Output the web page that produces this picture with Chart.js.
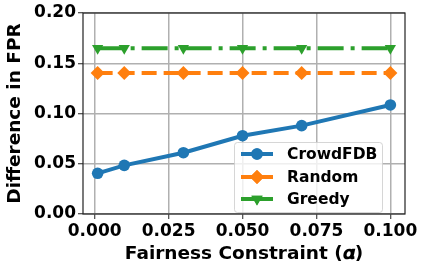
<!DOCTYPE html>
<html>
<head>
<meta charset="utf-8">
<script src="https://cdn.jsdelivr.net/npm/chart.js@4"></script>
<style>
html,body{margin:0;padding:0;background:#fff;}
#wrap{width:421px;height:265px;position:relative;}
</style>
</head>
<body>
<div id="wrap"><canvas id="c" width="421" height="265"></canvas></div>
<script>
const alphaValues = [0.001, 0.01, 0.03, 0.05, 0.07, 0.1];
const crowdFDB = [0.0405, 0.0484, 0.061, 0.0779, 0.0879, 0.1085];
const randomVals = [0.1403, 0.1403, 0.1403, 0.1403, 0.1403, 0.1403];
const greedyVals = [0.165, 0.165, 0.165, 0.165, 0.165, 0.165];
const seriesNames = ['CrowdFDB', 'Random', 'Greedy'];
const xTicks = [0, 0.025, 0.05, 0.075, 0.1];
const yTicks = [0, 0.05, 0.1, 0.15, 0.2];

const FONT = 'DejaVu Sans';
const pts = arr => arr.map((v, i) => ({x: alphaValues[i], y: v}));

const frameAndLegend = {
  id: 'frameAndLegend',
  afterDatasetsDraw(chart) {
    const {ctx, chartArea: a} = chart;
    ctx.save();
    ctx.strokeStyle = '#222';
    ctx.lineWidth = 1.2;
    ctx.strokeRect(a.left, a.top, a.right - a.left, a.bottom - a.top);
    // legend
    const lx = 234, ly = 142, lw = 148, lh = 70;
    ctx.fillStyle = 'rgba(255,255,255,0.8)';
    ctx.strokeStyle = 'rgba(204,204,204,0.8)';
    ctx.lineWidth = 1;
    ctx.beginPath();
    ctx.roundRect(lx + 0.5, ly + 0.5, lw, lh, 3);
    ctx.fill();
    ctx.stroke();
    const rows = [154, 177, 199];
    chart.data.datasets.forEach((ds, i) => {
      const y = rows[i];
      ctx.strokeStyle = ds.borderColor;
      ctx.lineWidth = ds.borderWidth;
      ctx.setLineDash([]);
      ctx.beginPath();
      ctx.moveTo(241, y);
      ctx.lineTo(273, y);
      ctx.stroke();
      ctx.fillStyle = ds.pointBackgroundColor;
      Chart.helpers.drawPoint(ctx, {pointStyle: ds.pointStyle, rotation: ds.pointRotation || 0, radius: ds.pointRadius, borderWidth: 0}, 257, y);
      ctx.fill();
      ctx.fillStyle = '#000';
      ctx.font = 'bold 15.5px "' + FONT + '"';
      ctx.textBaseline = 'middle';
      ctx.textAlign = 'left';
      ctx.fillText(ds.label, 287, y + 1);
    });
    ctx.restore();
  }
};

new Chart(document.getElementById('c'), {
  type: 'scatter',
  data: {
    datasets: [
      {label: seriesNames[0], data: pts(crowdFDB), showLine: true, borderColor: '#1f77b4', backgroundColor: '#1f77b4',
       pointBackgroundColor: '#1f77b4', pointBorderWidth: 0, borderWidth: 4, pointStyle: 'circle', pointRadius: 5.8, clip: false},
      {label: seriesNames[1], data: pts(randomVals), showLine: true, borderColor: '#ff7f0e', backgroundColor: '#ff7f0e',
       pointBackgroundColor: '#ff7f0e', pointBorderWidth: 0, borderWidth: 4, borderDash: [15, 7], pointStyle: 'rectRot', pointRadius: 7, clip: false},
      {label: seriesNames[2], data: pts(greedyVals), showLine: true, borderColor: '#2ca02c', backgroundColor: '#2ca02c',
       pointBackgroundColor: '#2ca02c', pointBorderWidth: 0, borderWidth: 4, borderDash: [26, 7, 4, 7], pointStyle: 'triangle', pointRotation: 180, pointRadius: 6.5, clip: false}
    ]
  },
  options: {
    responsive: false,
    animation: false,
    events: [],
    layout: {padding: {left: 0, right: 16, top: 13, bottom: 0}},
    plugins: {legend: {display: false}, tooltip: {enabled: false}},
    scales: {
      x: {
        type: 'linear', min: -0.00395, max: 0.10495,
        afterBuildTicks: s => { s.ticks = xTicks.map(v => ({value: v})); },
        afterFit: s => { s.height = 51; },
        ticks: {color: '#000', font: {family: FONT, weight: 'bold', size: 17}, padding: 2, maxRotation: 0,
                callback: v => v.toFixed(3)},
        grid: {color: '#b0b0b0', lineWidth: 1.5, tickLength: 5, tickColor: '#222', tickWidth: 1},
        border: {display: false},
        title: {display: true, text: 'Fairness Constraint (\u{1D736})', color: '#000', font: {family: FONT, weight: 'bold', size: 18.5}, padding: {top: 0, bottom: 0}}
      },
      y: {
        min: 0, max: 0.2,
        afterBuildTicks: s => { s.ticks = yTicks.map(v => ({value: v})); },
        afterFit: s => { s.width = 83; },
        ticks: {color: '#000', font: {family: FONT, weight: 'bold', size: 17}, padding: 2,
                callback: v => v.toFixed(2)},
        grid: {color: '#b0b0b0', lineWidth: 1.5, tickLength: 5, tickColor: '#222', tickWidth: 1},
        border: {display: false},
        title: {display: true, text: 'Difference in FPR', color: '#000', font: {family: FONT, weight: 'bold', size: 18.5}, padding: {top: 4, bottom: 0}}
      }
    }
  },
  plugins: [frameAndLegend]
});
</script>
</body>
</html>
